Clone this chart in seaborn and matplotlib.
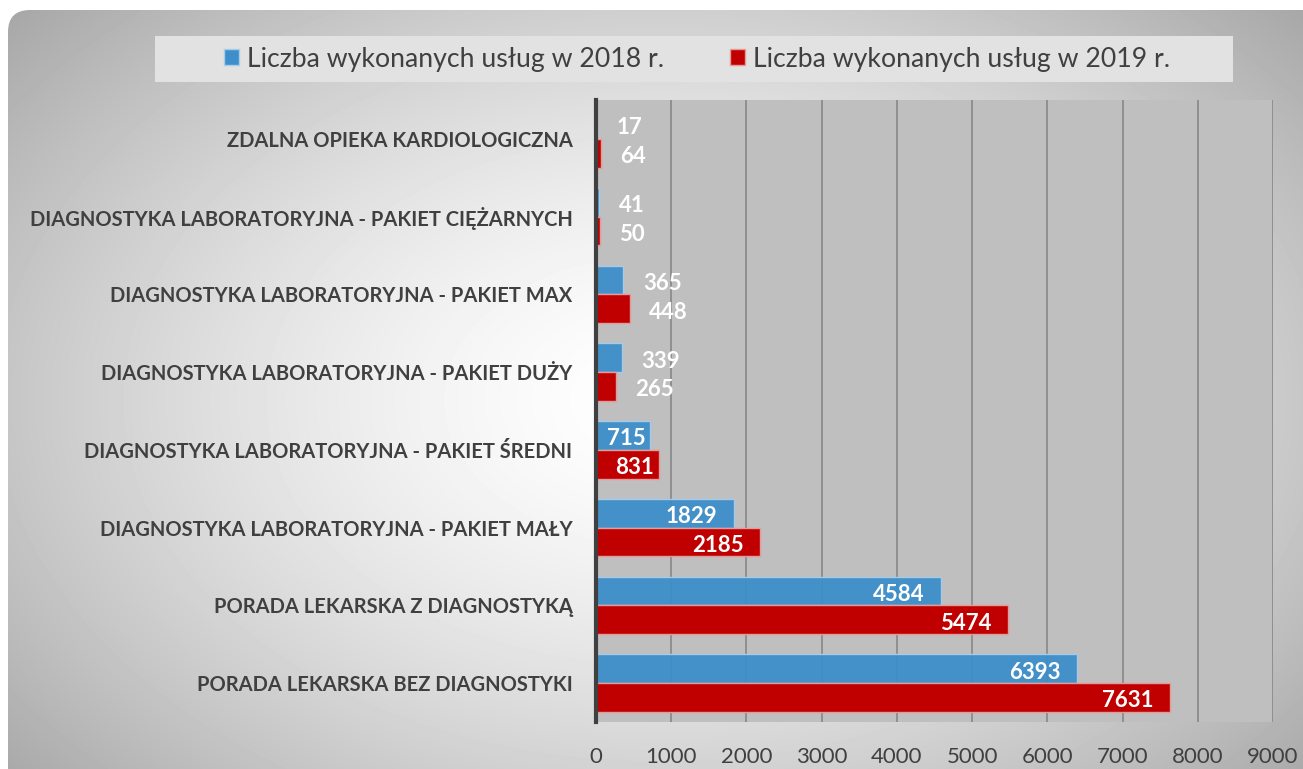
import numpy as np
import pandas as pd
import matplotlib
matplotlib.use("Agg")
import matplotlib.pyplot as plt
import seaborn as sns
from matplotlib.patches import FancyBboxPatch, Patch, Rectangle

categories = [
    "ZDALNA OPIEKA KARDIOLOGICZNA",
    "DIAGNOSTYKA LABORATORYJNA - PAKIET CIĘŻARNYCH",
    "DIAGNOSTYKA LABORATORYJNA - PAKIET MAX",
    "DIAGNOSTYKA LABORATORYJNA - PAKIET DUŻY",
    "DIAGNOSTYKA LABORATORYJNA - PAKIET ŚREDNI",
    "DIAGNOSTYKA LABORATORYJNA - PAKIET MAŁY",
    "PORADA LEKARSKA Z DIAGNOSTYKĄ",
    "PORADA LEKARSKA BEZ DIAGNOSTYKI",
]
values_2018 = [17, 41, 365, 339, 715, 1829, 4584, 6393]
values_2019 = [64, 50, 448, 265, 831, 2185, 5474, 7631]
series = ["Liczba wykonanych usług w 2018 r.", "Liczba wykonanych usług w 2019 r."]
xticks = [0, 1000, 2000, 3000, 4000, 5000, 6000, 7000, 8000, 9000]

df = pd.DataFrame({
    "kategoria": categories * 2,
    "liczba": values_2018 + values_2019,
    "seria": [series[0]] * len(categories) + [series[1]] * len(categories),
})

sns.set_style("white")
plt.rcParams["font.family"] = ["Lato", "DejaVu Sans"]

W, H = 1303, 769
fig = plt.figure(figsize=(W / 100, H / 100), dpi=100)
fig.patch.set_facecolor("white")

# background: rounded box with a soft radial gradient
bg = fig.add_axes([0, 0, 1, 1], zorder=-10)
bg.set_xlim(0, W)
bg.set_ylim(H, 0)
bg.axis("off")
yy, xx = np.mgrid[0:H, 0:W]
r = np.sqrt(((xx - 660) / 700.0) ** 2 + ((yy - 400) / 470.0) ** 2)
grad = 1.0 - 0.25 * np.clip(r, 0, 1.3) ** 1.5
img = bg.imshow(grad, cmap="gray", vmin=0, vmax=1, extent=(0, W, H, 0), aspect="auto")
box = FancyBboxPatch((8, 10), W + 20, H + 20, boxstyle="round,pad=0,rounding_size=22",
                     transform=bg.transData, facecolor="none", edgecolor="none")
bg.add_patch(box)
img.set_clip_path(box)
# legend box
bg.add_patch(Rectangle((155, 36), 1078, 46, facecolor="#e2e2e2", edgecolor="none", zorder=2))

ax = fig.add_axes([596 / W, 1 - 722 / H, (1273 - 596) / W, (722 - 100) / H])
palette = {series[0]: "#3d8ec9", series[1]: "#c00000"}
sns.barplot(data=df, y="kategoria", x="liczba", hue="seria", orient="h",
            palette=palette, width=0.74, saturation=1, ax=ax, zorder=3, legend=False)

edges = ["#a9cdea", "#e59a9a"]
for cont, ec, alpha in zip(ax.containers, edges, [0.95, 1.0]):
    for p in cont:
        p.set_edgecolor(ec)
        p.set_linewidth(1.0)
        p.set_alpha(alpha)

ax.set_facecolor("#bfbfbf")
ax.set_xlim(0, 9000)
ax.set_xticks(xticks)
ax.xaxis.grid(True, color="#8c8c8c", linewidth=1.3, zorder=1)
ax.set_axisbelow(True)
for s in ["top", "right", "bottom"]:
    ax.spines[s].set_visible(False)
ax.spines["left"].set_color("#404040")
ax.spines["left"].set_linewidth(3)
ax.spines["left"].set_zorder(5)
ax.set_xlabel("")
ax.set_ylabel("")
ax.tick_params(axis="x", length=0, pad=18, labelsize=16, labelcolor="#404040")
ax.tick_params(axis="y", length=0, pad=17)
for lab in ax.get_yticklabels():
    lab.set_fontweight("bold")
    lab.set_fontsize(14.5)
    lab.set_color("#404040")
    lab.set_verticalalignment("center_baseline")

# value labels
for cont in ax.containers:
    for p in cont:
        v = p.get_width()
        yc = p.get_y() + p.get_height() / 2
        if v >= 700:
            off = -3 if v < 1000 else -12
            ax.annotate(f"{int(round(v))}", (v, yc), xytext=(off, -1), textcoords="offset points",
                        ha="right", va="center_baseline", color="white", fontsize=16,
                        fontweight="bold", zorder=6)
        else:
            ax.annotate(f"{int(round(v))}", (v, yc), xytext=(14, -1), textcoords="offset points",
                        ha="left", va="center_baseline", color="white", fontsize=16,
                        fontweight="bold", zorder=6)

handles = [Patch(facecolor=palette[s], edgecolor=e, label=s) for s, e in zip(series, edges)]
leg = fig.legend(handles=handles, loc="center", bbox_to_anchor=(697 / W, 1 - 59 / H), ncol=2,
                 frameon=False, fontsize=19.2, handlelength=0.55, handleheight=0.55,
                 handletextpad=0.3, columnspacing=2.5, borderpad=0.3)
for t in leg.get_texts():
    t.set_color("#404040")

fig.savefig("out.png", dpi=100)
